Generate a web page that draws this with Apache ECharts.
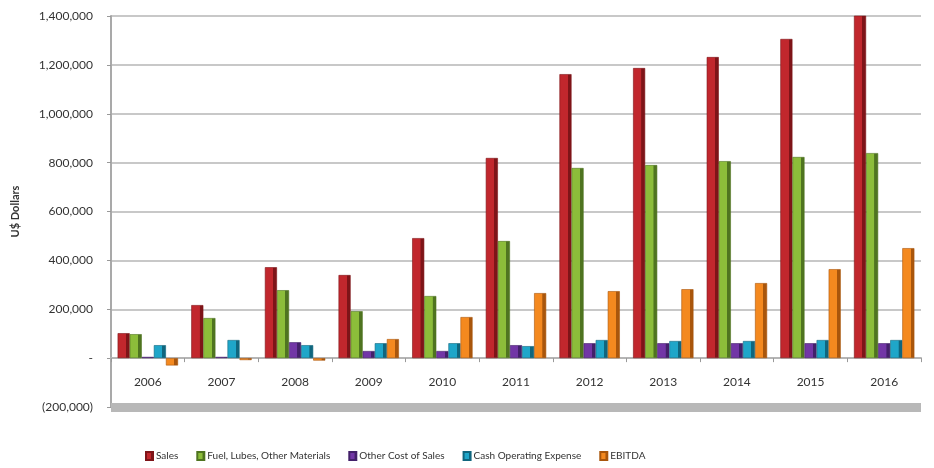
<!DOCTYPE html>
<html>
<head>
<meta charset="utf-8">
<script src="https://cdn.jsdelivr.net/npm/echarts@6/dist/echarts.min.js"></script>
<style>
  html, body { margin: 0; padding: 0; background: #fff; }
  #chart { width: 934px; height: 468px; }
</style>
</head>
<body>
<div id="chart"></div>
<script>
// Annual financial summary, US dollars
const years = ['2006', '2007', '2008', '2009', '2010', '2011', '2012', '2013', '2014', '2015', '2016'];

const sales       = [102000, 217000, 372000, 340000, 491000, 819000, 1162000, 1187000, 1232000, 1306000, 1404000];
const fuelLubes   = [98000, 164000, 278000, 192000, 254000, 479000, 778000, 790000, 806000, 823000, 839000];
const otherCost   = [5000, 5000, 65000, 29000, 29000, 53000, 61000, 61000, 61000, 61000, 61000];
const cashOpex    = [53000, 74000, 53000, 61000, 61000, 49000, 74000, 70000, 70000, 74000, 74000];
const ebitda      = [-30000, -8000, -10000, 78000, 168000, 266000, 274000, 282000, 307000, 364000, 450000];

const yTicks = [-200000, 0, 200000, 400000, 600000, 800000, 1000000, 1200000, 1400000];

// shaded fill that gives each bar a lit face and a darker side
function shade(light, dark) {
  return new echarts.graphic.LinearGradient(0, 0, 1, 0, [
    { offset: 0, color: light },
    { offset: 0.68, color: light },
    { offset: 0.7, color: dark },
    { offset: 1, color: dark }
  ]);
}

function barSeries(name, data, light, dark) {
  return {
    name: name,
    type: 'bar',
    data: data,
    barGap: '0%',
    barCategoryGap: '18%',
    itemStyle: { color: shade(light, dark), borderColor: dark, borderWidth: 0.6 },
    emphasis: { disabled: true }
  };
}

function fmt(v) {
  if (v === 0) return '-';
  const s = Math.abs(v).toLocaleString('en-US');
  return v < 0 ? '(' + s + ')' : s;
}

const series = [
  barSeries('Sales', sales, '#c1272d', '#7e1418'),
  barSeries('Fuel, Lubes, Other Materials', fuelLubes, '#8cbd3a', '#4f7420'),
  barSeries('Other Cost of Sales', otherCost, '#7236a6', '#43206a'),
  barSeries('Cash Operating Expense', cashOpex, '#1fa6c9', '#10667e'),
  barSeries('EBITDA', ebitda, '#f4891f', '#a9560c')
];

// grey floor slab along the bottom of the value range
series[0].markLine = {
  silent: true,
  symbol: 'none',
  label: { show: false },
  lineStyle: { color: '#b8b8b8', width: 9, type: 'solid' },
  data: [{ yAxis: yTicks[0] }]
};

const chart = echarts.init(document.getElementById('chart'));
chart.setOption({
  animation: false,
  backgroundColor: '#ffffff',
  color: ['#c1272d', '#8cbd3a', '#7236a6', '#1fa6c9', '#f4891f'],
  textStyle: { fontFamily: 'Lato, "Open Sans", sans-serif' },
  grid: { left: 111, right: 13, top: 16, bottom: 61 },
  legend: {
    bottom: 2,
    left: 140,
    itemWidth: 7,
    itemHeight: 8,
    itemGap: 18,
    icon: 'rect',
    textStyle: { fontSize: 10, color: '#333', padding: [0, 0, 0, -2] },
    data: ['Sales', 'Fuel, Lubes, Other Materials', 'Other Cost of Sales', 'Cash Operating Expense', 'EBITDA']
  },
  xAxis: {
    type: 'category',
    data: years,
    axisLine: { onZero: true, lineStyle: { color: '#b5b5b5', width: 2 } },
    axisTick: { show: true, length: 4, lineStyle: { color: '#999' } },
    // year labels sit just under the zero line, above the floor
    axisLabel: { margin: -31, fontSize: 12, color: '#333' },
    z: 1
  },
  yAxis: {
    type: 'value',
    min: yTicks[0],
    max: yTicks[yTicks.length - 1],
    interval: 200000,
    name: 'U$ Dollars',
    nameLocation: 'middle',
    nameGap: 90,
    nameRotate: 90,
    nameTextStyle: { fontSize: 11, fontWeight: 'bold', color: '#333' },
    axisLine: { show: true, lineStyle: { color: '#a9a9a9', width: 2 } },
    axisTick: { show: true, length: 4, lineStyle: { color: '#999' } },
    axisLabel: { formatter: fmt, fontSize: 12, color: '#333', margin: 18 },
    splitLine: { lineStyle: { color: '#c8c8c8', width: 2 } }
  },
  series: series
});
</script>
</body>
</html>
